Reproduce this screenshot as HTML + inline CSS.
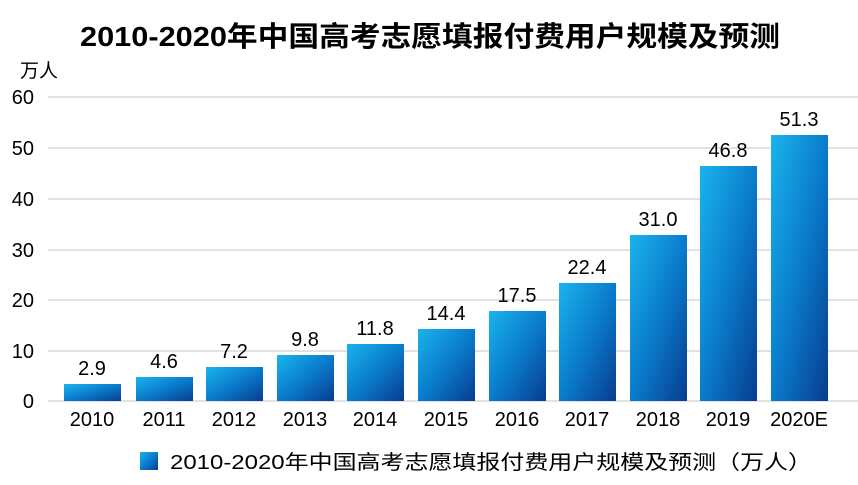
<!DOCTYPE html>
<html><head><meta charset="utf-8"><style>
body{margin:0;width:858px;height:480px;background:#fff;overflow:hidden;font-family:"Liberation Sans","Noto Sans CJK SC",sans-serif;}
</style></head><body>
<svg width="858" height="480" xmlns="http://www.w3.org/2000/svg" style="font-family:'Liberation Sans','Noto Sans CJK SC',sans-serif">
<defs><linearGradient id="g" x1="0" y1="0" x2="1" y2="1">
<stop offset="0" stop-color="#1ab4ec"/><stop offset="0.5" stop-color="#0a7ccc"/><stop offset="1" stop-color="#083c8e"/></linearGradient></defs>
<text x="80" y="46" font-size="28" font-weight="bold" fill="#000" textLength="700" lengthAdjust="spacingAndGlyphs">2010-2020年中国高考志愿填报付费用户规模及预测</text>
<text x="20" y="77" font-size="19" fill="#000">万人</text>
<g stroke="#d9d9d9" stroke-width="1.5">
<line x1="48" x2="858" y1="97" y2="97"/><line x1="48" x2="858" y1="148" y2="148"/><line x1="48" x2="858" y1="199" y2="199"/><line x1="48" x2="858" y1="250" y2="250"/><line x1="48" x2="858" y1="300" y2="300"/><line x1="48" x2="858" y1="351" y2="351"/><line x1="48" x2="858" y1="401" y2="401"/></g>
<g font-size="20" text-anchor="end" fill="#000">
<text x="34" y="104">60</text><text x="34" y="155">50</text><text x="34" y="206">40</text><text x="34" y="257">30</text><text x="34" y="307">20</text><text x="34" y="358">10</text><text x="34" y="408">0</text></g>
<g fill="url(#g)">
<rect x="64" y="384" width="57" height="17"/><rect x="136" y="377" width="57" height="24"/><rect x="206" y="367" width="57" height="34"/><rect x="277" y="355" width="57" height="46"/><rect x="347" y="344" width="57" height="57"/><rect x="418" y="329" width="57" height="72"/><rect x="489" y="311" width="57" height="90"/><rect x="559" y="283" width="57" height="118"/><rect x="630" y="235" width="57" height="166"/><rect x="700" y="166" width="57" height="235"/><rect x="771" y="135" width="57" height="266"/></g>
<g font-size="20" text-anchor="middle" fill="#000">
<text x="92" y="375">2.9</text><text x="164" y="368">4.6</text><text x="234" y="358">7.2</text><text x="305" y="346">9.8</text><text x="375" y="335">11.8</text><text x="446" y="320">14.4</text><text x="517" y="302">17.5</text><text x="587" y="274">22.4</text><text x="658" y="226">31.0</text><text x="728" y="157">46.8</text><text x="799" y="126">51.3</text>
<text x="92" y="426">2010</text><text x="164" y="426">2011</text><text x="234" y="426">2012</text><text x="305" y="426">2013</text><text x="375" y="426">2014</text><text x="446" y="426">2015</text><text x="517" y="426">2016</text><text x="587" y="426">2017</text><text x="658" y="426">2018</text><text x="728" y="426">2019</text><text x="799" y="426">2020E</text></g>
<rect x="140" y="452" width="18" height="18" fill="url(#g)"/>
<text x="170" y="469" font-size="20" fill="#000" textLength="642" lengthAdjust="spacingAndGlyphs">2010-2020年中国高考志愿填报付费用户规模及预测（万人）</text>
</svg>
</body></html>
